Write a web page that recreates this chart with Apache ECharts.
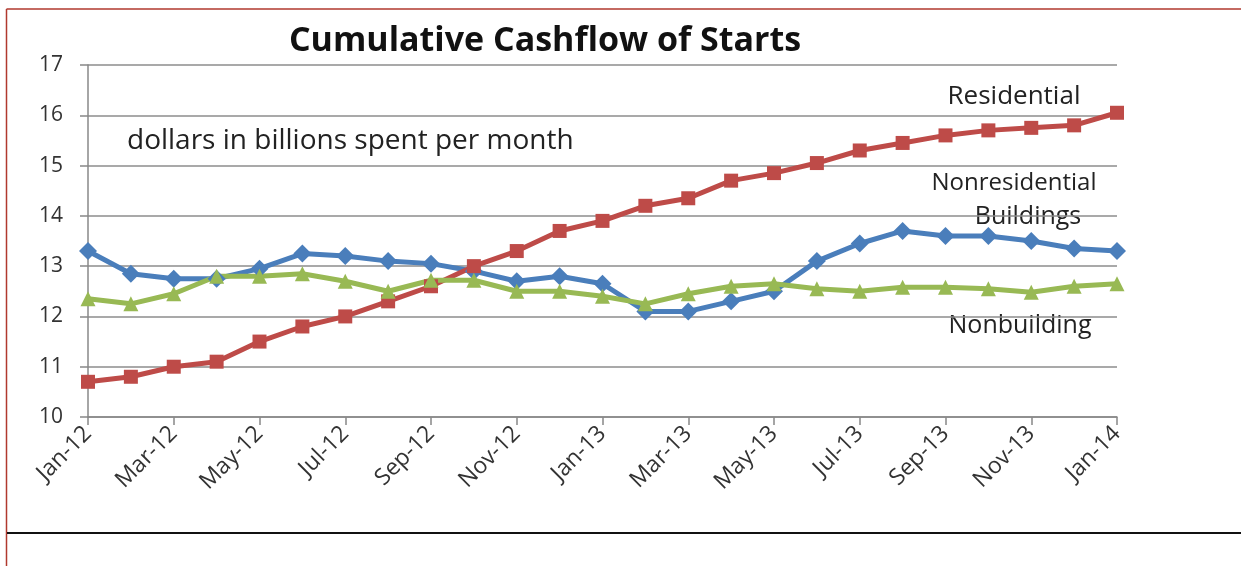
<!DOCTYPE html>
<html>
<head>
<meta charset="utf-8">
<script src="https://cdn.jsdelivr.net/npm/echarts@6/dist/echarts.min.js"></script>
<style>
  html, body { margin: 0; padding: 0; background: #fff; }
  #chart { width: 1241px; height: 566px; }
</style>
</head>
<body>
<div id="chart"></div>
<script>
// months Jan-12 .. Jan-14
var months = ['Jan-12', 'Feb-12', 'Mar-12', 'Apr-12', 'May-12', 'Jun-12', 'Jul-12', 'Aug-12',
    'Sep-12', 'Oct-12', 'Nov-12', 'Dec-12', 'Jan-13', 'Feb-13', 'Mar-13', 'Apr-13', 'May-13',
    'Jun-13', 'Jul-13', 'Aug-13', 'Sep-13', 'Oct-13', 'Nov-13', 'Dec-13', 'Jan-14'];

var nonresidential = [13.3, 12.85, 12.75, 12.75, 12.95, 13.25, 13.2, 13.1, 13.05, 12.9, 12.7, 12.8,
    12.65, 12.1, 12.1, 12.3, 12.5, 13.1, 13.45, 13.7, 13.6, 13.6, 13.5, 13.35, 13.3];
var residential = [10.7, 10.8, 11.0, 11.1, 11.5, 11.8, 12.0, 12.3, 12.6, 13.0, 13.3, 13.7,
    13.9, 14.2, 14.35, 14.7, 14.85, 15.05, 15.3, 15.45, 15.6, 15.7, 15.75, 15.8, 16.05];
var nonbuilding = [12.35, 12.25, 12.45, 12.8, 12.8, 12.85, 12.7, 12.5, 12.72, 12.72, 12.5, 12.5,
    12.4, 12.25, 12.45, 12.6, 12.65, 12.55, 12.5, 12.58, 12.58, 12.55, 12.48, 12.6, 12.65];

var FONT = 'Open Sans';

var chart = echarts.init(document.getElementById('chart'));

function line(name, data, color, symbol, size) {
    return {
        name: name,
        type: 'line',
        data: data,
        symbol: symbol,
        symbolSize: size,
        showAllSymbol: true,
        lineStyle: { color: color, width: 5 },
        itemStyle: { color: color },
        z: 3
    };
}

// text placed by its centre point
function note(text, cx, cy, size, align) {
    return {
        type: 'text',
        x: cx,
        y: cy,
        style: {
            text: text,
            font: size + 'px "' + FONT + '"',
            fill: '#222',
            align: align || 'center',
            verticalAlign: 'middle'
        }
    };
}

chart.setOption({
    animation: false,
    backgroundColor: '#fff',
    title: {
        text: 'Cumulative Cashflow of Starts',
        left: 540,
        top: 19,
        textAlign: 'center',
        textStyle: { fontFamily: FONT, fontSize: 34, fontWeight: 'bold', color: '#111' }
    },
    grid: { left: 88, right: 124, top: 65, bottom: 149 },
    xAxis: {
        type: 'category',
        data: months,
        boundaryGap: false,
        axisLine: { lineStyle: { color: '#888', width: 1.5 } },
        axisTick: { interval: 1, length: 8, lineStyle: { color: '#888', width: 1.5 } },
        axisLabel: {
            interval: 1,
            rotate: 45,
            margin: 13,
            fontFamily: FONT,
            fontSize: 23,
            color: '#333'
        },
        splitLine: { show: false }
    },
    yAxis: {
        type: 'value',
        min: 10,
        max: 17,
        interval: 1,
        axisLine: { show: true, lineStyle: { color: '#888', width: 1.5 } },
        axisTick: { show: true, length: 8, lineStyle: { color: '#888', width: 1.5 } },
        axisLabel: { fontFamily: FONT, fontSize: 21, color: '#333', margin: 25 },
        splitLine: { lineStyle: { color: '#8c8c8c', width: 1.5 } }
    },
    series: [
        line('Nonresidential Buildings', nonresidential, '#4A7EBB', 'diamond', 18),
        line('Residential', residential, '#BE4B48', 'rect', 14),
        line('Nonbuilding', nonbuilding, '#98B954', 'triangle', 15)
    ],
    graphic: [
        // outer frame
        { type: 'line', shape: { x1: 6.5, y1: 9, x2: 1241, y2: 9 }, style: { stroke: '#B0392E', lineWidth: 1.5 } },
        { type: 'line', shape: { x1: 6.5, y1: 9, x2: 6.5, y2: 566 }, style: { stroke: '#B0392E', lineWidth: 1.5 } },
        { type: 'line', shape: { x1: 7, y1: 533, x2: 1241, y2: 533 }, style: { stroke: '#111', lineWidth: 2 } },
        // annotations
        note('dollars in billions spent per month', 127, 141, 28, 'left'),
        note('Residential', 1014, 97, 26),
        note('Nonresidential', 1014, 183, 24),
        note('Buildings', 1028, 217, 25),
        note('Nonbuilding', 1020, 326, 25)
    ]
});
</script>
</body>
</html>
